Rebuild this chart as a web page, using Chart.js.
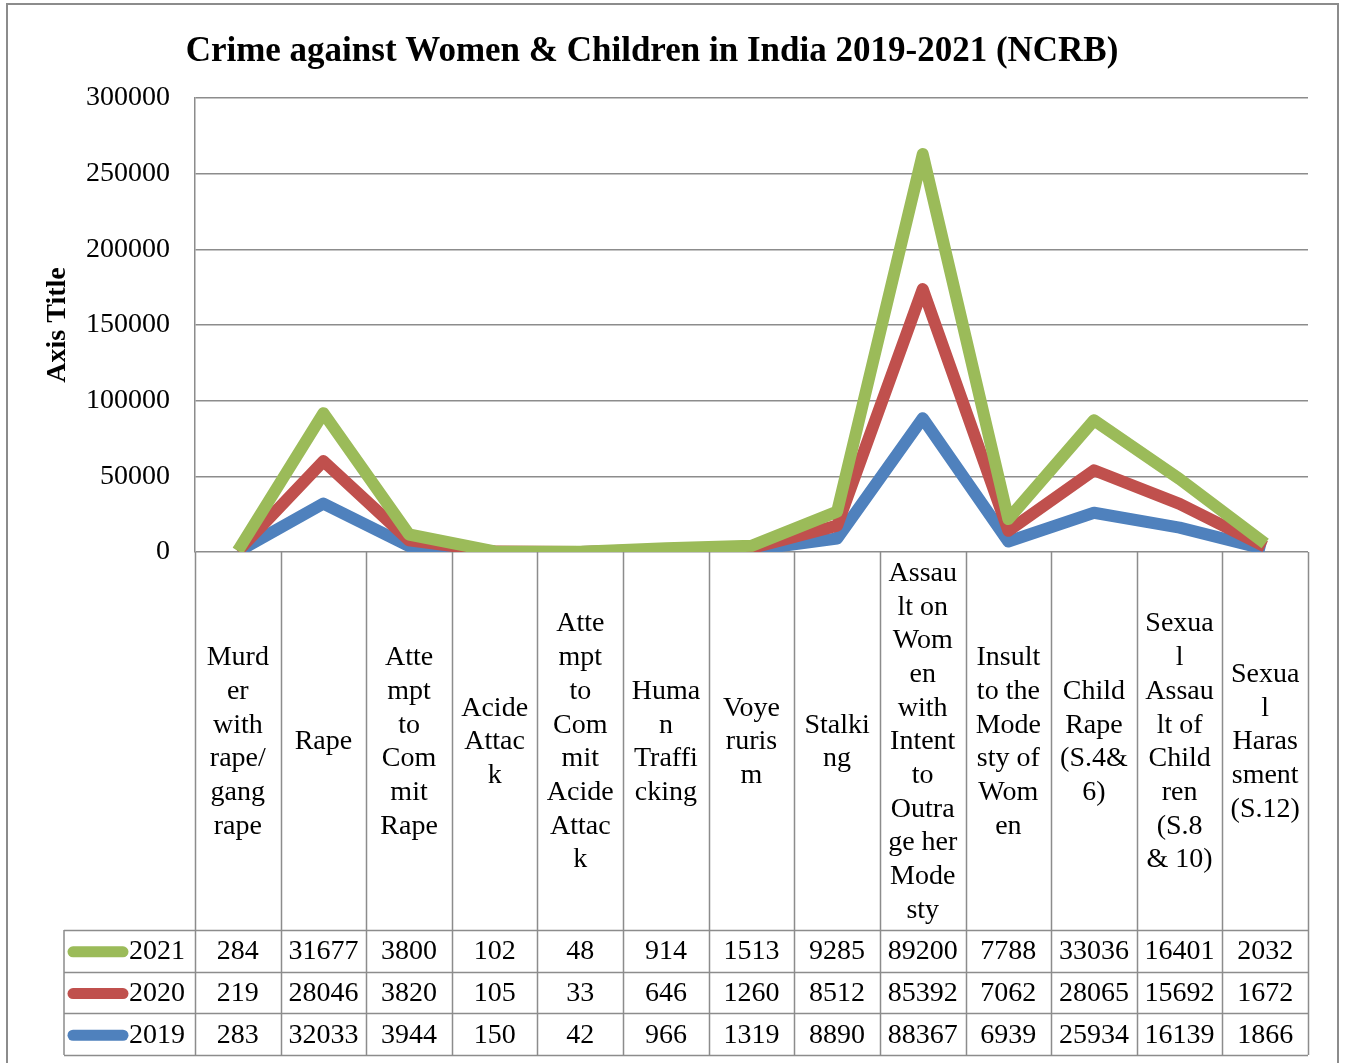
<!DOCTYPE html>
<html>
<head>
<meta charset="utf-8">
<title>Crime against Women & Children in India 2019-2021 (NCRB)</title>
<script src="https://cdn.jsdelivr.net/npm/chart.js@4"></script>
<style>
  html, body { margin: 0; padding: 0; background: #fff; }
  #wrap { width: 1345px; height: 1063px; position: relative; }
</style>
</head>
<body>
<div id="wrap"><canvas id="crimeChart"></canvas></div>
<script>
// Categories, already wrapped the way the table shows them
const categories = [
  ['Murd', 'er', 'with', 'rape/', 'gang', 'rape'],
  ['Rape'],
  ['Atte', 'mpt', 'to', 'Com', 'mit', 'Rape'],
  ['Acide', 'Attac', 'k'],
  ['Atte', 'mpt', 'to', 'Com', 'mit', 'Acide', 'Attac', 'k'],
  ['Huma', 'n', 'Traffi', 'cking'],
  ['Voye', 'ruris', 'm'],
  ['Stalki', 'ng'],
  ['Assau', 'lt on', 'Wom', 'en', 'with', 'Intent', 'to', 'Outra', 'ge her', 'Mode', 'sty'],
  ['Insult', 'to the', 'Mode', 'sty of', 'Wom', 'en'],
  ['Child', 'Rape', '(S.4&', '6)'],
  ['Sexua', 'l', 'Assau', 'lt of', 'Child', 'ren', '(S.8', '& 10)'],
  ['Sexua', 'l', 'Haras', 'sment', '(S.12)']
];

const values2019 = [283, 32033, 3944, 150, 42, 966, 1319, 8890, 88367, 6939, 25934, 16139, 1866];
const values2020 = [219, 28046, 3820, 105, 33, 646, 1260, 8512, 85392, 7062, 28065, 15692, 1672];
const values2021 = [284, 31677, 3800, 102, 48, 914, 1513, 9285, 89200, 7788, 33036, 16401, 2032];

const yTicks = [0, 50000, 100000, 150000, 200000, 250000, 300000];

const FONT = '"Liberation Serif", "Times New Roman", serif';
const GRID = '#8c8c8c';
const colors = { '2021': '#9BBB59', '2020': '#C0504D', '2019': '#4F81BD' };

// table rows top to bottom, like the picture
const tableRows = [
  { label: '2021', values: values2021 },
  { label: '2020', values: values2020 },
  { label: '2019', values: values2019 }
];

// Draw bottom series first so the top series lies over it (Excel order)
const drawOrderPlugin = {
  id: 'drawOrder',
  beforeDatasetsDraw(chart) {
    const ctx = chart.ctx;
    const area = chart.chartArea;
    const metas = chart.getSortedVisibleDatasetMetas();
    ctx.save();
    ctx.beginPath();
    ctx.rect(area.left, area.top, area.right - area.left, area.bottom - area.top);
    ctx.clip();
    metas.forEach(meta => meta.controller.draw());
    ctx.restore();
    return false;
  }
};

// Title, outer frame and the data table under the plot
const tablePlugin = {
  id: 'dataTable',
  afterDraw(chart) {
    const ctx = chart.ctx;
    const x = chart.scales.x;
    const area = chart.chartArea;
    const colW = (area.right - area.left) / categories.length;
    const headTop = area.bottom;
    const headBottom = 930;
    const rowH = 41.7;
    const legendLeft = 64;
    const tableBottom = headBottom + rowH * tableRows.length;

    ctx.save();

    // outer frame
    ctx.strokeStyle = GRID;
    ctx.lineWidth = 2;
    ctx.strokeRect(7, 4, 1331, 1080);

    // title
    ctx.fillStyle = '#000';
    ctx.font = 'bold 35px ' + FONT;
    ctx.textAlign = 'center';
    ctx.textBaseline = 'middle';
    ctx.fillText('Crime against Women & Children in India 2019-2021 (NCRB)', 652, 52);

    // grid of the table
    ctx.strokeStyle = GRID;
    ctx.lineWidth = 1.5;
    ctx.beginPath();
    for (let i = 0; i <= categories.length; i++) {
      const cx = Math.round(area.left + i * colW) + 0.5;
      ctx.moveTo(cx, headTop);
      ctx.lineTo(cx, tableBottom);
    }
    ctx.moveTo(legendLeft, headBottom);
    ctx.lineTo(legendLeft, tableBottom);
    for (let r = 0; r <= tableRows.length; r++) {
      const ry = Math.round(headBottom + r * rowH) + 0.5;
      ctx.moveTo(legendLeft, ry);
      ctx.lineTo(area.right, ry);
    }
    ctx.stroke();

    // header labels
    ctx.fillStyle = '#000';
    ctx.font = '28px ' + FONT;
    const lineH = 33.7;
    const midHead = (headTop + headBottom) / 2 + 1;
    categories.forEach((lines, i) => {
      const cx = x.getPixelForValue(i);
      const startY = midHead - (lines.length - 1) * lineH / 2;
      lines.forEach((line, j) => ctx.fillText(line, cx, startY + j * lineH));
    });

    // data rows with legend keys
    tableRows.forEach((row, r) => {
      const cy = headBottom + r * rowH + rowH / 2 + 1;
      ctx.strokeStyle = colors[row.label];
      ctx.lineWidth = 11;
      ctx.lineCap = 'round';
      ctx.beginPath();
      ctx.moveTo(73, cy);
      ctx.lineTo(123, cy);
      ctx.stroke();

      ctx.fillStyle = '#000';
      ctx.textAlign = 'left';
      ctx.fillText(row.label, 129, cy);
      ctx.textAlign = 'center';
      row.values.forEach((v, i) => ctx.fillText(String(v), x.getPixelForValue(i), cy));
    });

    ctx.restore();
  }
};

function makeDataset(label, data) {
  return {
    label: label,
    data: data,
    borderColor: colors[label],
    backgroundColor: colors[label],
    borderWidth: 12,
    borderJoinStyle: 'round',
    borderCapStyle: 'butt',
    pointRadius: 0,
    pointHoverRadius: 0,
    tension: 0,
    fill: false
  };
}

const ctx = document.getElementById('crimeChart').getContext('2d');
new Chart(ctx, {
  type: 'line',
  data: {
    labels: categories,
    datasets: [
      makeDataset('2019', values2019),
      makeDataset('2020', values2020),
      makeDataset('2021', values2021)
    ]
  },
  options: {
    responsive: true,
    maintainAspectRatio: false,
    animation: false,
    layout: { padding: { left: 41, right: 37, top: 98, bottom: 511 } },
    plugins: {
      legend: { display: false },
      title: { display: false },
      tooltip: { enabled: false }
    },
    scales: {
      x: {
        type: 'category',
        display: false,
        offset: true
      },
      y: {
        stacked: true,
        min: 0,
        max: 300000,
        afterFit(scale) { scale.width = 154; },
        afterBuildTicks(scale) { scale.ticks = yTicks.map(v => ({ value: v })); },
        ticks: {
          color: '#000',
          padding: 25,
          font: { family: FONT, size: 28 },
          callback: v => String(v)
        },
        grid: { color: GRID, lineWidth: 1.5, drawTicks: false },
        border: { color: GRID, width: 1.5 },
        title: {
          display: true,
          text: 'Axis Title',
          color: '#000',
          padding: 0,
          font: { family: FONT, size: 28, weight: 'bold' }
        }
      }
    }
  },
  plugins: [drawOrderPlugin, tablePlugin]
});
</script>
</body>
</html>
